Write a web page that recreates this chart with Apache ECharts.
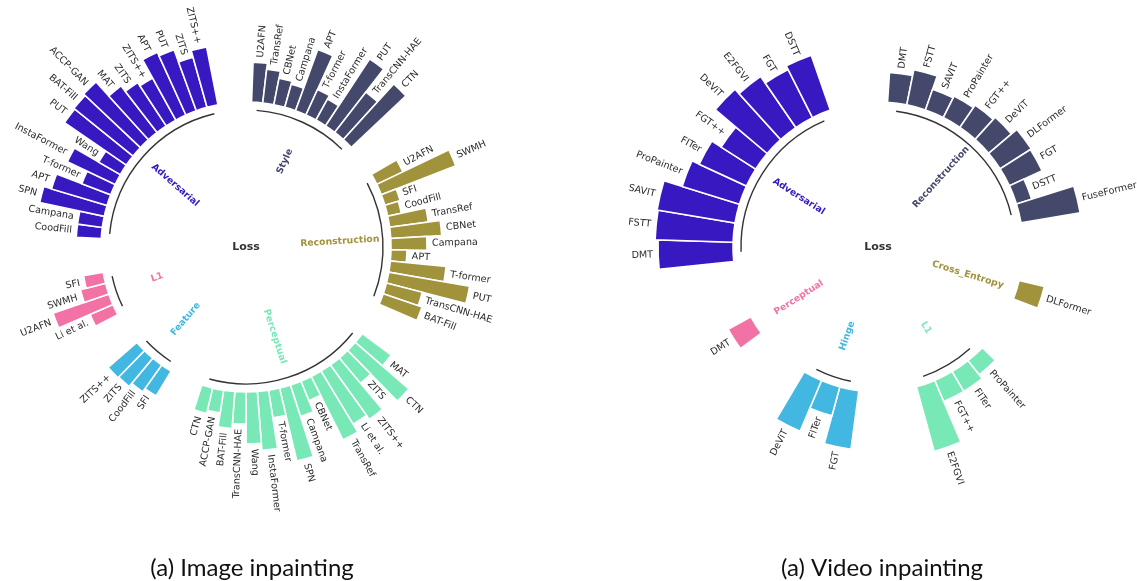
<!DOCTYPE html>
<html>
<head>
<meta charset="utf-8">
<script src="https://cdn.jsdelivr.net/npm/echarts@6/dist/echarts.min.js"></script>
<style>
  html, body { margin: 0; padding: 0; background: #fff; }
  #chart { width: 1137px; height: 581px; }
</style>
</head>
<body>
<div id="chart"></div>
<script>
// ---- Image inpainting: methods grouped by loss, listed clockwise ----
const imageGroups = ['Adversarial', 'Style', 'Reconstruction', 'Perceptual', 'Feature', 'L1'];

const imageAdversarialMethods = ['CoodFill', 'Campana', 'SPN', 'APT', 'T-former', 'InstaFormer', 'Wang', 'PUT', 'BAT-Fill', 'ACCP-GAN', 'MAT', 'ZITS', 'ZITS++', 'APT', 'PUT', 'ZITS', 'ZITS++'];
const imageAdversarialValues  = [25, 25, 66, 58, 31, 53, 25, 75, 76, 78, 59, 52, 48, 69, 65, 52, 59];

const imageStyleMethods = ['U2AFN', 'TransRef', 'CBNet', 'Campana', 'APT', 'T-former', 'InstaFormer', 'PUT', 'TransCNN-HAE', 'CTN'];
const imageStyleValues  = [40, 34, 27, 24, 65, 28, 24, 80, 51, 75];

const imageReconstructionMethods = ['U2AFN', 'SWMH', 'SFI', 'CoodFill', 'TransRef', 'CBNet', 'Campana', 'APT', 'T-former', 'PUT', 'TransCNN-HAE', 'BAT-Fill'];
const imageReconstructionValues  = [29, 80, 16, 14, 39, 51, 36, 16, 56, 82, 37, 41];

const imagePerceptualMethods = ['MAT', 'CTN', 'ZITS', 'ZITS++', 'Li et al.', 'TransRef', 'CBNet', 'Campana', 'SPN', 'T-former', 'InstaFormer', 'Wang', 'TransCNN-HAE', 'BAT-Fill', 'ACCP-GAN', 'CTN'];
const imagePerceptualValues  = [36, 71, 33, 67, 62, 71, 21, 33, 75, 28, 59, 52, 32, 37, 23, 26];

const imageFeatureMethods = ['SFI', 'CoodFill', 'ZITS', 'ZITS++'];
const imageFeatureValues  = [29, 33, 37, 38];

const imageL1Methods = ['Li et al.', 'U2AFN', 'SWMH', 'SFI'];
const imageL1Values  = [25, 59, 26, 20];

// ---- Video inpainting ----
const videoGroups = ['Adversarial', 'Reconstruction', 'Cross_Entropy', 'L1', 'Hinge', 'Perceptual'];

const videoAdversarialMethods = ['DMT', 'FSTT', 'SAVIT', 'ProPainter', 'FITer', 'FGT++', 'DeViT', 'E2FGVI', 'FGT', 'DSTT'];
const videoAdversarialValues  = [75, 78, 79, 60, 52, 41, 68, 62, 54, 58];

const videoReconstructionMethods = ['DMT', 'FSTT', 'SAVIT', 'ProPainter', 'FGT++', 'DeViT', 'DLFormer', 'FGT', 'DSTT', 'FuseFormer'];
const videoReconstructionValues  = [30, 36, 22, 24, 27, 30, 37, 36, 16, 60];

const videoCrossEntropyMethods = ['DLFormer'];
const videoCrossEntropyValues  = [26];

const videoL1Methods = ['ProPainter', 'FITer', 'FGT++', 'E2FGVI'];
const videoL1Values  = [18, 23, 23, 67];

const videoHingeMethods = ['FGT', 'FITer', 'DeViT'];
const videoHingeValues  = [59, 30, 55];

const videoPerceptualMethods = ['DMT'];
const videoPerceptualValues  = [26];

const captions = ['(a) Image inpainting', '(a) Video inpainting'];
const centreLabel = 'Loss';

// ---- styling ----
const GAP_SLOTS = 3;
const FONT = 'DejaVu Sans';
const imageColors = ['#3718C1', '#44486A', '#A0933C', '#78E8B7', '#41B7E1', '#F272A6'];
const videoColors = ['#3718C1', '#44486A', '#A0933C', '#78E8B7', '#41B7E1', '#F272A6'];

// Lay the bars out on angular slots, leaving empty slots after each group.
function buildLayout(groups, methodLists, valueLists) {
  const slots = [];
  const bars = [];
  const spans = [];
  groups.forEach((g, gi) => {
    const first = slots.length;
    methodLists[gi].forEach((m, mi) => {
      bars.push({ value: valueLists[gi][mi], slot: slots.length, group: gi, label: m });
      slots.push(g + ' / ' + m + ' / ' + mi);
    });
    spans.push({ first: first, last: slots.length - 1, group: gi, name: g });
    for (let k = 0; k < GAP_SLOTS; k++) slots.push(g + ' / gap ' + k);
  });
  return { slots, bars, spans };
}

const imageLayout = buildLayout(
  imageGroups,
  [imageAdversarialMethods, imageStyleMethods, imageReconstructionMethods, imagePerceptualMethods, imageFeatureMethods, imageL1Methods],
  [imageAdversarialValues, imageStyleValues, imageReconstructionValues, imagePerceptualValues, imageFeatureValues, imageL1Values]
);
const videoLayout = buildLayout(
  videoGroups,
  [videoAdversarialMethods, videoReconstructionMethods, videoCrossEntropyMethods, videoL1Methods, videoHingeMethods, videoPerceptualMethods],
  [videoAdversarialValues, videoReconstructionValues, videoCrossEntropyValues, videoL1Values, videoHingeValues, videoPerceptualValues]
);

function angleOf(cs, p) {
  return Math.atan2(cs.cy - p[1], p[0] - cs.cx);
}

function barSeries(layout, colors, polarIndex) {
  return {
    type: 'custom',
    coordinateSystem: 'polar',
    polarIndex: polarIndex,
    silent: true,
    data: layout.bars.map(b => [b.value, b.slot]),
    renderItem: function (params, api) {
      const cs = params.coordSys;
      const bar = layout.bars[params.dataIndex];
      const slot = api.value(1);
      const pIn = api.coord([0, slot]);
      const pOut = api.coord([api.value(0), slot]);
      const r0 = Math.hypot(pIn[0] - cs.cx, pIn[1] - cs.cy);
      const r1 = Math.hypot(pOut[0] - cs.cx, pOut[1] - cs.cy);
      const a = angleOf(cs, pIn);
      const half = Math.PI / layout.slots.length;
      const rl = r1 + 5;
      const flip = Math.cos(a) < 0;
      return {
        type: 'group',
        children: [
          {
            type: 'sector',
            shape: { cx: cs.cx, cy: cs.cy, r0: r0, r: r1, startAngle: -(a + half), endAngle: -(a - half), clockwise: true },
            style: { fill: colors[bar.group], stroke: '#ffffff', lineWidth: 1.6 }
          },
          {
            type: 'text',
            x: cs.cx + rl * Math.cos(a),
            y: cs.cy - rl * Math.sin(a),
            rotation: flip ? a - Math.PI : a,
            style: {
              text: bar.label,
              fill: '#2b2b2b',
              fontFamily: FONT,
              fontSize: 9.6,
              align: flip ? 'right' : 'left',
              verticalAlign: 'middle'
            }
          }
        ]
      };
    }
  };
}

function groupSeries(layout, colors, polarIndex) {
  return {
    type: 'custom',
    coordinateSystem: 'polar',
    polarIndex: polarIndex,
    silent: true,
    data: layout.spans.map(s => [0, s.first]),
    renderItem: function (params, api) {
      const cs = params.coordSys;
      const span = layout.spans[params.dataIndex];
      let aA = angleOf(cs, api.coord([0, span.first]));
      const aB = angleOf(cs, api.coord([0, span.last]));
      if (aA < aB) aA += 2 * Math.PI;
      const mid = (aA + aB) / 2;
      const rArc = cs.r0 - 8;
      const rText = cs.r0 - 51;
      const flip = Math.cos(mid) < 0;
      const children = [{
        type: 'text',
        x: cs.cx + rText * Math.cos(mid),
        y: cs.cy - rText * Math.sin(mid),
        rotation: flip ? mid - Math.PI : mid,
        style: {
          text: span.name,
          fill: colors[span.group],
          fontFamily: FONT,
          fontWeight: 'bold',
          fontSize: 9.3,
          align: 'center',
          verticalAlign: 'middle'
        }
      }];
      if (span.last > span.first) {
        children.push({
          type: 'arc',
          shape: { cx: cs.cx, cy: cs.cy, r: rArc, startAngle: -aA, endAngle: -aB, clockwise: true },
          style: { stroke: '#333333', lineWidth: 1.4, fill: null }
        });
      }
      return { type: 'group', children: children };
    }
  };
}

function centreSeries(polarIndex) {
  return {
    type: 'custom',
    coordinateSystem: 'polar',
    polarIndex: polarIndex,
    silent: true,
    data: [[0, 0]],
    renderItem: function (params) {
      const cs = params.coordSys;
      return {
        type: 'text',
        x: cs.cx,
        y: cs.cy,
        style: {
          text: centreLabel,
          fill: '#333333',
          fontFamily: FONT,
          fontWeight: 'bold',
          fontSize: 11,
          align: 'center',
          verticalAlign: 'middle'
        }
      };
    }
  };
}

const hiddenAngle = {
  type: 'category',
  clockwise: true,
  axisLine: { show: false },
  axisTick: { show: false },
  axisLabel: { show: false },
  splitLine: { show: false },
  splitArea: { show: false }
};
const hiddenRadius = {
  type: 'value',
  min: 0,
  max: 100,
  axisLine: { show: false },
  axisTick: { show: false },
  axisLabel: { show: false },
  splitLine: { show: false },
  splitArea: { show: false }
};

const captionStyle = { fontFamily: 'Lato', fontWeight: 'normal', fontSize: 24, color: '#111' };

const chart = echarts.init(document.getElementById('chart'), null, { renderer: 'canvas' });
chart.setOption({
  backgroundColor: '#ffffff',
  animation: false,
  title: [
    { text: captions[0], left: 247, top: 551, textAlign: 'center', textStyle: captionStyle },
    { text: captions[1], left: 877, top: 551, textAlign: 'center', textStyle: captionStyle }
  ],
  polar: [
    { center: [246, 247], radius: [145, 245] },
    { center: [878, 247], radius: [145, 245] }
  ],
  angleAxis: [
    Object.assign({}, hiddenAngle, { polarIndex: 0, startAngle: 176.7, data: imageLayout.slots }),
    Object.assign({}, hiddenAngle, { polarIndex: 1, startAngle: 185.8, data: videoLayout.slots })
  ],
  radiusAxis: [
    Object.assign({}, hiddenRadius, { polarIndex: 0 }),
    Object.assign({}, hiddenRadius, { polarIndex: 1 })
  ],
  series: [
    barSeries(imageLayout, imageColors, 0),
    groupSeries(imageLayout, imageColors, 0),
    centreSeries(0),
    barSeries(videoLayout, videoColors, 1),
    groupSeries(videoLayout, videoColors, 1),
    centreSeries(1)
  ]
});
</script>
</body>
</html>
